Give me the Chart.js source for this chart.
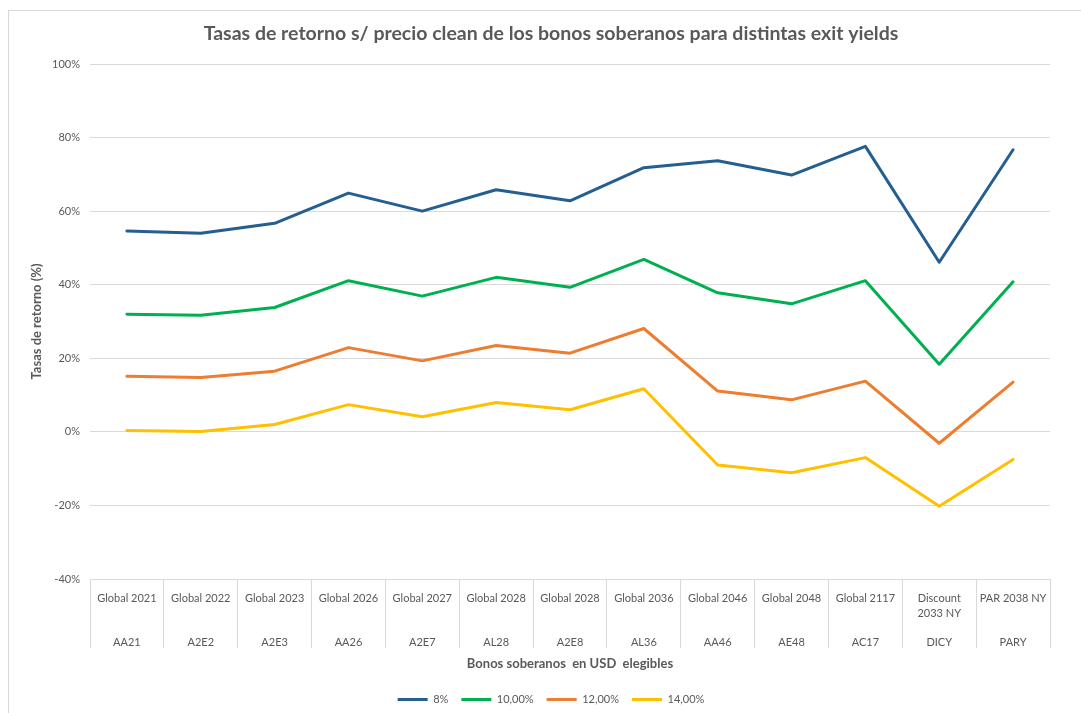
<!DOCTYPE html>
<html>
<head>
<meta charset="utf-8">
<script src="https://cdn.jsdelivr.net/npm/chart.js@4.4.1/dist/chart.umd.min.js"></script>
<style>
  body { margin: 0; background: #fff; }
  #box {
    position: absolute; left: 8px; top: 10px;
    width: 1073px; height: 706px;
    box-sizing: border-box;
    border-left: 1px solid #d9d9d9; border-top: 1px solid #d9d9d9;
  }
  #box canvas { display: block; }
</style>
</head>
<body>
<div id="box"><canvas id="tasas" width="1072" height="704"></canvas></div>
<script>
// --- DATOS ---
const bondNames = ['Global 2021', 'Global 2022', 'Global 2023', 'Global 2026', 'Global 2027', 'Global 2028',
                   'Global 2028', 'Global 2036', 'Global 2046', 'Global 2048', 'Global 2117', 'Discount 2033 NY', 'PAR 2038 NY'];
const bondCodes = ['AA21', 'A2E2', 'A2E3', 'AA26', 'A2E7', 'AL28', 'A2E8', 'AL36', 'AA46', 'AE48', 'AC17', 'DICY', 'PARY'];

const yield8  = [54.6, 54.0, 56.7, 64.9, 60.0, 65.8, 62.8, 71.8, 73.7, 69.8, 77.6, 46.1, 76.7];
const yield10 = [32.0, 31.7, 33.8, 41.1, 36.9, 42.0, 39.3, 46.9, 37.8, 34.8, 41.1, 18.4, 40.8];
const yield12 = [15.1, 14.8, 16.5, 22.9, 19.3, 23.5, 21.4, 28.1, 11.1, 8.7, 13.8, -3.1, 13.5];
const yield14 = [0.4, 0.1, 2.0, 7.4, 4.1, 8.0, 6.0, 11.7, -9.0, -11.1, -7.0, -20.2, -7.5];

const yTicks = [-40, -20, 0, 20, 40, 60, 80, 100];

const GREY = '#595959';
const GRID = '#d9d9d9';
const FONT = 'Lato, "Noto Sans", sans-serif';

// Etiquetas de dos niveles: nombre (partido si es largo) + código
const labels = bondNames.map((name, i) => {
    const lines = name.length > 12
        ? [name.slice(0, name.indexOf(' ')), name.slice(name.indexOf(' ') + 1)]
        : [name, ''];
    return [...lines, '', bondCodes[i]];
});

function serie(label, data, color) {
    return {
        label, data,
        borderColor: color,
        backgroundColor: color,
        borderWidth: 3,
        borderCapStyle: 'round',
        borderJoinStyle: 'round',
        pointRadius: 0,
        pointHoverRadius: 0,
        tension: 0
    };
}

Chart.defaults.font.family = FONT;
Chart.defaults.color = GREY;

new Chart(document.getElementById('tasas').getContext('2d'), {
    type: 'line',
    data: {
        labels,
        datasets: [
            serie('8%', yield8, '#255E91'),
            serie('10,00%', yield10, '#00B050'),
            serie('12,00%', yield12, '#ED7D31'),
            serie('14,00%', yield14, '#FFC000')
        ]
    },
    options: {
        responsive: false,
        animation: false,
        layout: { padding: { left: 12, right: 0, top: 0, bottom: 0 } },
        plugins: {
            title: {
                display: true,
                text: 'Tasas de retorno s/ precio clean de los bonos soberanos para distintas exit yields',
                color: GREY,
                font: { size: 19.5, weight: 'bold' },
                padding: { top: 11, bottom: 18.6 }
            },
            legend: {
                position: 'bottom',
                labels: {
                    usePointStyle: true,
                    pointStyle: 'line',
                    pointStyleWidth: 30,
                    boxHeight: 11,
                    padding: 13,
                    color: GREY,
                    font: { size: 11 }
                }
            },
            tooltip: { enabled: false }
        },
        scales: {
            x: {
                offset: true,
                grid: {
                    offset: true,
                    drawOnChartArea: false,
                    tickLength: 69,
                    color: GRID
                },
                border: { display: true, color: GRID },
                ticks: {
                    autoSkip: false,
                    maxRotation: 0,
                    padding: -57,
                    color: GREY,
                    font: { size: 11, lineHeight: 1.333 }
                },
                title: {
                    display: true,
                    text: 'Bonos soberanos  en USD  elegibles',
                    color: GREY,
                    font: { size: 13, weight: 'bold' },
                    padding: { top: 4, bottom: 9 }
                },
                afterFit: (scale) => { scale.height = 102; }
            },
            y: {
                min: -40,
                max: 100,
                afterBuildTicks: (scale) => { scale.ticks = yTicks.map(v => ({ value: v })); },
                grid: { color: GRID, drawTicks: false },
                border: { display: false },
                ticks: {
                    padding: 10,
                    color: GREY,
                    font: { size: 11 },
                    callback: (value) => value + '%'
                },
                title: {
                    display: true,
                    text: 'Tasas de retorno (%)',
                    color: GREY,
                    font: { size: 13, weight: 'bold' },
                    padding: { top: 8, bottom: 0 }
                },
                afterFit: (scale) => { scale.width = 69; }
            },
            // eje vacío a la derecha: solo reserva el margen del área de trazado
            margen: {
                position: 'right',
                display: true,
                grid: { display: false },
                border: { display: false },
                ticks: { display: false },
                afterFit: (scale) => { scale.width = 31; }
            }
        }
    }
});
</script>
</body>
</html>
